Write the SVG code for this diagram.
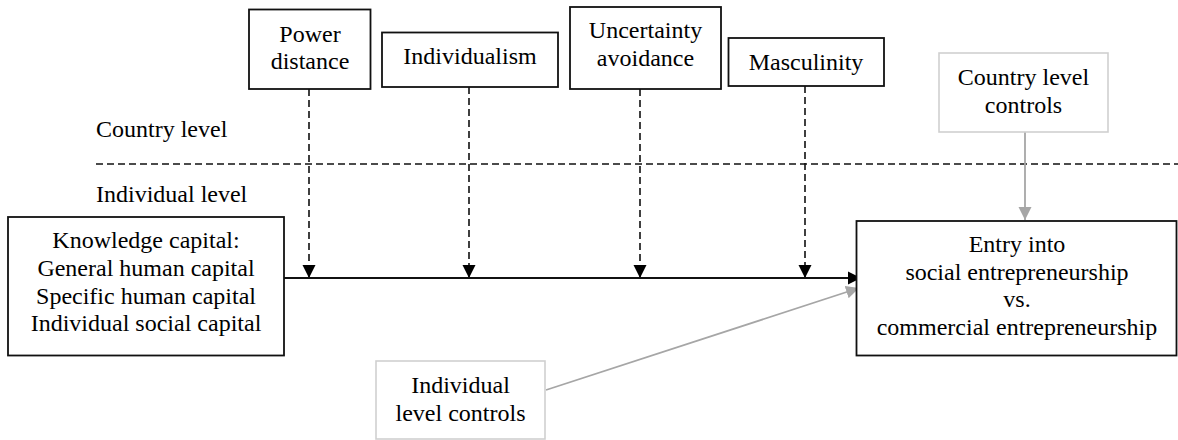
<svg xmlns="http://www.w3.org/2000/svg" width="1178" height="440" viewBox="0 0 1178 440" font-family="'Liberation Serif', 'Times New Roman', serif" font-size="24">
<defs>
<marker id="ab" markerUnits="userSpaceOnUse" markerWidth="14" markerHeight="14" refX="13" refY="7" orient="auto"><path d="M0,0.5 L13,7 L0,13.5 z" fill="#000"/></marker>
<marker id="ag" markerUnits="userSpaceOnUse" markerWidth="14" markerHeight="14" refX="13" refY="7" orient="auto"><path d="M0,0.5 L13,7 L0,13.5 z" fill="#a6a6a6"/></marker>
<style>
text{font-family:'Liberation Serif','Times New Roman',serif;font-size:24px;fill:#000;}
.c{text-anchor:middle;}
.bx{fill:#fff;stroke:#111;stroke-width:1.8;}
.gb{fill:#fff;stroke:#d0d0d0;stroke-width:1.6;}
.dl{stroke:#111;stroke-width:1.6;stroke-dasharray:7 4;fill:none;}
.sl{stroke:#111;stroke-width:1.8;fill:none;}
.gl{stroke:#a6a6a6;stroke-width:1.8;fill:none;}
</style>
</defs>
<text x="96" y="137">Country level</text>
<text x="96" y="202">Individual level</text>
<g id="connectors">
<line class="dl" x1="96" y1="164" x2="1178" y2="164"/>
<line class="dl" x1="309" y1="89" x2="309" y2="278" marker-end="url(#ab)"/>
<line class="dl" x1="469" y1="87" x2="469" y2="278" marker-end="url(#ab)"/>
<line class="dl" x1="640" y1="89" x2="640" y2="278" marker-end="url(#ab)"/>
<line class="dl" x1="805" y1="86" x2="805" y2="278" marker-end="url(#ab)"/>
<line class="sl" x1="284" y1="278" x2="861" y2="278" marker-end="url(#ab)"/>
<line class="gl" x1="1025" y1="132" x2="1025" y2="220" marker-end="url(#ag)"/>
<line class="gl" x1="546" y1="390" x2="859" y2="288" marker-end="url(#ag)"/>
</g>
<g id="power">
<rect class="bx" x="249" y="9.5" width="121.5" height="79.5"/>
<text class="c" x="310" y="42">Power</text>
<text class="c" x="310" y="69">distance</text>
</g>
<g id="individualism">
<rect class="bx" x="382" y="32.5" width="176" height="54.5"/>
<text class="c" x="470" y="64">Individualism</text>
</g>
<g id="uncertainty">
<rect class="bx" x="570" y="7" width="151" height="82"/>
<text class="c" x="645.5" y="38">Uncertainty</text>
<text class="c" x="645.5" y="66">avoidance</text>
</g>
<g id="masculinity">
<rect class="bx" x="728.5" y="38" width="155.5" height="48"/>
<text class="c" x="806" y="70">Masculinity</text>
</g>
<g id="country-controls">
<rect class="gb" x="939" y="53" width="169" height="79"/>
<text class="c" x="1023.5" y="85">Country level</text>
<text class="c" x="1023.5" y="113">controls</text>
</g>
<g id="knowledge">
<rect class="bx" x="8" y="217" width="276" height="138.5"/>
<text class="c" x="146" y="248">Knowledge capital:</text>
<text class="c" x="146" y="276">General human capital</text>
<text class="c" x="146" y="304">Specific human capital</text>
<text class="c" x="146" y="331">Individual social capital</text>
</g>
<g id="entry">
<rect class="bx" x="856.5" y="221" width="320" height="134.5"/>
<text class="c" x="1017" y="252">Entry into</text>
<text class="c" x="1017" y="280">social entrepreneurship</text>
<text class="c" x="1017" y="307">vs.</text>
<text class="c" x="1017" y="335">commercial entrepreneurship</text>
</g>
<g id="individual-controls">
<rect class="gb" x="376" y="361" width="169" height="78"/>
<text class="c" x="460.5" y="393">Individual</text>
<text class="c" x="460.5" y="421">level controls</text>
</g>
</svg>
